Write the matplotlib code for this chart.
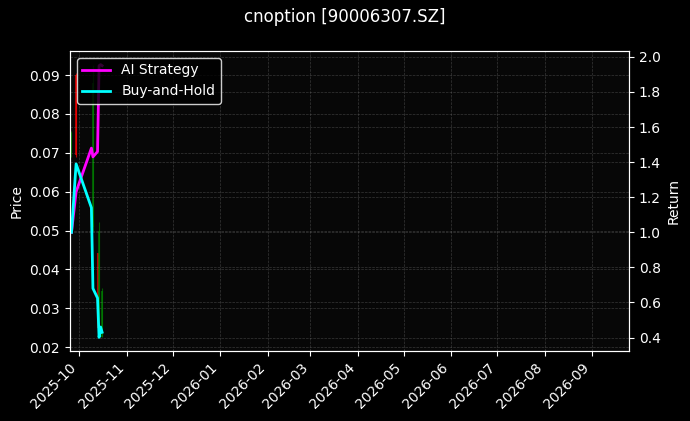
import matplotlib.pyplot as plt
import matplotlib.dates as mdates
import numpy as np
import pandas as pd

plt.style.use('dark_background')

dates = pd.to_datetime(['2025-09-26', '2025-09-29', '2025-10-09', '2025-10-10',
                        '2025-10-13', '2025-10-14', '2025-10-15', '2025-10-16'])

# OHLC (nan = no visible candle)
open_ = [0.0700, 0.0900, np.nan, 0.0510, 0.0442, 0.0240, np.nan, 0.0225]
high = [0.0755, 0.0905, np.nan, 0.0927, 0.0443, 0.0522, np.nan, 0.0352]
low = [0.0690, 0.0690, np.nan, 0.0500, 0.0249, 0.0231, np.nan, 0.0225]
close = [0.0750, 0.0695, np.nan, 0.0880, 0.0250, 0.0500, np.nan, 0.0345]

ai_return = [1.00, 1.23, 1.48, 1.43, 1.46, 1.95, 1.956, 1.95]
bh_return = [1.00, 1.39, 1.14, 0.68, 0.625, 0.401, 0.46, 0.43]

fig, ax = plt.subplots(figsize=(6.9, 4.21), dpi=100)
fig.patch.set_facecolor('black')
ax.set_facecolor('#070707')
fig.subplots_adjust(left=0.1014, right=0.9116, top=0.8789, bottom=0.1663)

for d, o, h, l, c in zip(dates, open_, high, low, close):
    if np.isnan(o):
        continue
    col = 'green' if c >= o else 'red'
    ax.vlines(d, l, h, color=col, linewidth=0.8, alpha=0.7)
    ax.vlines(d, min(o, c), max(o, c), color=col, linewidth=1.5, alpha=0.7)

ax.set_ylabel('Price')
ax.grid(True, linestyle='--', linewidth=0.5, color='gray', alpha=0.4)

ax2 = ax.twinx()
ax2.plot(dates, ai_return, color='magenta', linewidth=2, label='AI Strategy')
ax2.plot(dates, bh_return, color='cyan', linewidth=2, label='Buy-and-Hold')
ax2.set_ylabel('Return')
ax2.grid(True, linestyle='--', linewidth=0.5, color='gray', alpha=0.4)
ax2.legend(loc='upper left', facecolor='black', edgecolor='white', framealpha=0.8)

ax.set_xlim(pd.Timestamp('2025-09-25'), pd.Timestamp('2026-09-25'))
ax.xaxis.set_major_locator(mdates.MonthLocator())
ax.xaxis.set_major_formatter(mdates.DateFormatter('%Y-%m'))
plt.setp(ax.get_xticklabels(), rotation=45, ha='right')

fig.suptitle('cnoption [90006307.SZ]', fontsize=12)

plt.savefig('out.png', facecolor=fig.get_facecolor())
